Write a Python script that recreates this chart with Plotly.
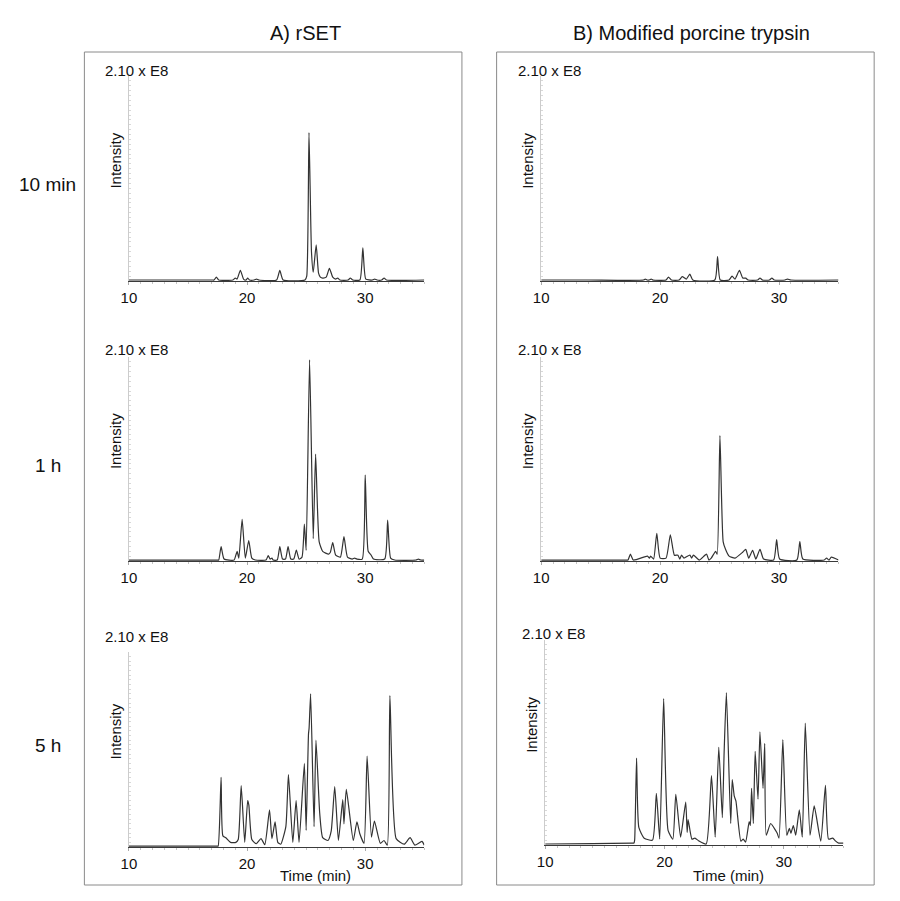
import plotly.graph_objects as go

# -----------------
# Data: retention time (min) and intensity (x 1E8)
# -----------------
rset_10min_t = [10, 14, 17.1, 17.2, 17.4, 17.6, 18.8, 19.0, 19.15, 19.43, 19.7, 19.9, 20.05, 20.2, 20.6, 20.8,
                21.0, 22.5, 22.77, 23.05, 24.9, 25.05, 25.24, 25.45, 25.6, 25.85, 26.05, 26.2, 26.4, 26.7,
                26.97, 27.25, 27.5, 27.67, 27.85, 28.55, 28.74, 28.95, 29.55, 29.8, 30.05, 30.6, 30.8, 31.0,
                31.4, 31.6, 31.8, 35]
rset_10min_i = [0.01, 0.01, 0.01, 0.01, 0.04, 0.01, 0.01, 0.03, 0.02, 0.11, 0.02, 0.01, 0.03, 0.01, 0.01, 0.02,
                0.01, 0.01, 0.11, 0.01, 0.01, 0.05, 1.52, 0.30, 0.09, 0.37, 0.08, 0.04, 0.03, 0.04,
                0.13, 0.04, 0.02, 0.03, 0.01, 0.01, 0.03, 0.01, 0.01, 0.34, 0.02, 0.01, 0.02, 0.01,
                0.01, 0.03, 0.01, 0.01]

rset_1h_t = [10, 14, 17.5, 17.6, 17.8, 18.05, 18.9, 19.05, 19.16, 19.3, 19.58, 19.85, 20.14, 20.4, 20.7,
             21.6, 21.79, 21.95, 22.1, 22.2, 22.55, 22.77, 23.0, 23.25, 23.47, 23.7, 23.95, 24.17, 24.4,
             24.65, 24.85, 25.0, 25.29, 25.6, 25.8, 26.1, 26.4, 26.9, 27.05, 27.25, 27.5, 27.9, 28.2,
             28.5, 28.9, 29.1, 29.3, 29.75, 30.0, 30.25, 30.5, 30.7, 31.65, 31.9, 32.15, 32.5, 34.3,
             34.5, 34.7, 35]
rset_1h_i = [0.01, 0.01, 0.01, 0.01, 0.147, 0.02, 0.01, 0.06, 0.10, 0.03, 0.43, 0.03, 0.21, 0.03, 0.01,
             0.01, 0.055, 0.02, 0.03, 0.01, 0.01, 0.147, 0.02, 0.02, 0.147, 0.02, 0.02, 0.113, 0.02,
             0.04, 0.38, 0.11, 2.07, 0.23, 1.10, 0.20, 0.10, 0.07, 0.09, 0.19, 0.06, 0.04, 0.25,
             0.04, 0.02, 0.03, 0.02, 0.02, 0.885, 0.10, 0.06, 0.02, 0.02, 0.42, 0.03, 0.01, 0.01,
             0.02, 0.01, 0.01]

rset_5h_t = [10, 14, 17.45, 17.55, 17.8, 17.95, 18.2, 18.6, 19.05, 19.25, 19.5, 19.8, 20.05, 20.15, 20.4,
             20.77, 21.18, 21.5, 21.9, 22.1, 22.37, 22.6, 22.85, 23.28, 23.5, 23.87, 24.15, 24.4, 24.85,
             25.0, 25.2, 25.25, 25.38, 25.67, 25.83, 26.15, 26.4, 26.85, 27.12, 27.42, 27.73, 28.1,
             28.2, 28.4, 28.99, 29.3, 29.55, 29.9, 30.16, 30.53, 30.78, 31.28, 31.59, 31.87, 32.09,
             32.62, 33.3, 33.8, 34.2, 34.8, 35]
rset_5h_i = [0.01, 0.01, 0.01, 0.01, 0.75, 0.12, 0.10, 0.05, 0.05, 0.08, 0.66, 0.05, 0.50, 0.45, 0.08,
             0.035, 0.09, 0.025, 0.40, 0.09, 0.27, 0.05, 0.03, 0.22, 0.78, 0.05, 0.50, 0.05, 0.90,
             0.18, 1.22, 1.28, 1.65, 0.22, 1.15, 0.36, 0.10, 0.07, 0.17, 0.65, 0.07, 0.51,
             0.25, 0.62, 0.07, 0.27, 0.14, 0.04, 0.98, 0.107, 0.28, 0.04, 0.07, 0.02, 1.63,
             0.09, 0.03, 0.10, 0.02, 0.06, 0.02]

pt_10min_t = [10, 14, 18.6, 18.75, 18.9, 19.1, 19.25, 19.4, 20.5, 20.7, 20.95, 21.6, 21.86, 22.2, 22.5,
              22.75, 24.6, 24.83, 25.05, 25.8, 26.05, 26.3, 26.67, 26.95, 27.2, 27.4, 28.2, 28.4,
              28.6, 29.2, 29.4, 29.6, 30.5, 30.7, 31.0, 35]
pt_10min_i = [0.01, 0.01, 0.01, 0.02, 0.01, 0.01, 0.02, 0.01, 0.01, 0.04, 0.01, 0.01, 0.045, 0.02, 0.07,
              0.01, 0.01, 0.25, 0.01, 0.01, 0.05, 0.02, 0.11, 0.03, 0.03, 0.01, 0.01, 0.03,
              0.01, 0.01, 0.03, 0.01, 0.01, 0.02, 0.01, 0.01]

pt_1h_t = [10, 14, 17.2, 17.3, 17.5, 17.75, 18.94, 19.1, 19.2, 19.45, 19.72, 20.0, 20.5, 20.86, 21.2, 21.5,
           21.65, 21.8, 22.0, 22.5, 22.65, 22.8, 23.3, 23.9, 24.1, 24.3, 24.67, 24.8, 25.03, 25.3, 25.5,
           25.8, 26.3, 26.94, 27.2, 27.45, 27.78, 28.05, 28.4, 28.7, 29.55, 29.8, 30.05, 31.5, 31.75,
           32.0, 33.8, 34.0, 34.2, 34.4, 35]
pt_1h_i = [0.01, 0.01, 0.01, 0.01, 0.07, 0.01, 0.05, 0.03, 0.05, 0.02, 0.285, 0.03, 0.03, 0.27, 0.06, 0.06,
           0.02, 0.06, 0.03, 0.06, 0.03, 0.06, 0.01, 0.07, 0.01, 0.03, 0.10, 0.07, 1.29, 0.20, 0.12,
           0.05, 0.03, 0.09, 0.12, 0.03, 0.11, 0.02, 0.12, 0.02, 0.01, 0.22, 0.02, 0.01, 0.20,
           0.02, 0.01, 0.03, 0.01, 0.04, 0.01]

pt_5h_t = [10, 14, 17.3, 17.44, 17.5, 17.66, 17.85, 18.3, 19.0, 19.32, 19.6, 19.93, 20.3, 20.7, 20.95,
           21.35, 21.78, 21.9, 21.98, 22.3, 22.55, 22.9, 23.5, 23.94, 24.25, 24.55, 24.85, 25.0, 25.19,
           25.55, 25.68, 25.85, 25.99, 26.4, 26.6, 26.8, 27.1, 27.2, 27.3, 27.45, 27.6, 27.84, 28.0,
           28.26, 28.4, 28.53, 28.9, 29.31, 29.45, 29.6, 29.92, 30.25, 30.47, 30.6, 30.8, 31.0, 31.3,
           31.55, 31.8, 32.2, 32.55, 33.1, 33.49, 33.75, 34.1, 34.35, 34.6, 35]
pt_5h_i = [0.01, 0.015, 0.02, 0.02, 0.05, 0.89, 0.18, 0.07, 0.05, 0.53, 0.06, 1.50, 0.15, 0.06, 0.52,
           0.08, 0.44, 0.13, 0.26, 0.06, 0.07, 0.04, 0.01, 0.71, 0.08, 1.00, 0.28, 0.95, 1.56,
           0.22, 0.67, 0.50, 0.45, 0.04, 0.06, 0.03, 0.24, 0.20, 0.58, 0.22, 0.96, 0.47,
           1.16, 0.58, 1.04, 0.10, 0.22, 0.15, 0.12, 0.07, 1.08, 0.10, 0.17, 0.12, 0.20, 0.10,
           0.36, 0.08, 1.25, 0.10, 0.40, 0.04, 0.61, 0.06, 0.07, 0.04, 0.02, 0.02]

series = [rset_10min_t, rset_10min_i, pt_10min_t, pt_10min_i,
          rset_1h_t, rset_1h_i, pt_1h_t, pt_1h_i,
          rset_5h_t, rset_5h_i, pt_5h_t, pt_5h_i]

panel_titles = ["A) rSET", "B) Modified porcine trypsin"]
row_labels = ["10 min", "1 h", "5 h"]
scale_label = "2.10 x E8"
x_ticks = [10, 20, 30]
x_range = [10, 35]
y_max = 2.10

# -----------------
# Layout: positions below are page pixels; the page body keeps its default 8px margin,
# so the figure is made 16px smaller and every position is shifted by that margin
# -----------------
OFF = 8
W, H = 900 - 2 * OFF, 901 - 2 * OFF
FONT = "Liberation Sans, Arial, sans-serif"

def px_x(p):
    return (p - OFF) / W

def px_y(p):
    return 1 - (p - OFF) / H

# left, right, top, bottom of each plot area, then y of the "2.10 x E8" label (page pixels)
boxes = [
    (122, 420, 76, 281, 70), (538, 838, 76, 281, 70),
    (122, 420, 357, 561, 349), (538, 838, 357, 561, 349),
    (122, 420, 652, 847, 636), (542, 843, 640, 845, 633),
]

fig = go.Figure()
layout = dict(
    width=W, height=H,
    margin=dict(l=0, r=0, t=0, b=0),
    paper_bgcolor="white", plot_bgcolor="white",
    showlegend=False,
    font=dict(family=FONT, color="#111"),
)

annotations = []
for k, (l, r, t, b, ly) in enumerate(boxes):
    n = k + 1
    suf = "" if n == 1 else str(n)
    layout["xaxis" + suf] = dict(
        domain=[px_x(l), px_x(r)], anchor="y" + suf,
        range=x_range, tickvals=x_ticks, showgrid=False, zeroline=False,
        showline=True, linecolor="#3a3a3a", linewidth=1,
        ticks="outside", ticklen=3, tickcolor="#aaa",
        minor=dict(ticks="outside", ticklen=2, dtick=1, tickcolor="#c4c4c4"),
        tickfont=dict(size=15, color="#111", family=FONT),
    )
    layout["yaxis" + suf] = dict(
        domain=[px_y(b), px_y(t)], anchor="x" + suf,
        range=[0, y_max], showgrid=False, zeroline=False,
        showline=True, linecolor="#cccccc", linewidth=1,
        showticklabels=False, ticks="inside", ticklen=2, dtick=0.05, tickcolor="#d8d8d8",
    )
    fig.add_trace(go.Scatter(
        x=series[2 * k], y=series[2 * k + 1], mode="lines",
        line=dict(color="#333333", width=1.2, shape="spline", smoothing=0.5),
        xaxis="x" + suf, yaxis="y" + suf,
        hoverinfo="skip",
    ))
    # scale label and axis title
    annotations.append(dict(x=px_x(l + 8), y=px_y(ly), xref="paper", yref="paper",
                            text=scale_label, showarrow=False, xanchor="center", yanchor="middle",
                            font=dict(size=15, family=FONT, color="#111")))
    annotations.append(dict(x=px_x(l - 14), y=px_y((t + b) / 2 - 18), xref="paper", yref="paper",
                            text="Intensity", textangle=-90, showarrow=False,
                            xanchor="center", yanchor="middle",
                            font=dict(size=15, family=FONT, color="#111")))

# panel titles
for cx, txt in zip([300, 690], panel_titles):
    annotations.append(dict(x=px_x(cx), y=px_y(33), xref="paper", yref="paper", text=txt,
                            showarrow=False, xanchor="center", yanchor="middle",
                            font=dict(size=20, family=FONT, color="#111")))

# row labels
for cy, txt in zip([185, 465, 745], row_labels):
    annotations.append(dict(x=px_x(40), y=px_y(cy), xref="paper", yref="paper", text=txt,
                            showarrow=False, xanchor="center", yanchor="middle",
                            font=dict(size=19, family=FONT, color="#111")))

# x axis titles under the bottom row
for cx in [310, 727]:
    annotations.append(dict(x=px_x(cx), y=px_y(875), xref="paper", yref="paper",
                            text="Time (min)", showarrow=False, xanchor="center", yanchor="middle",
                            font=dict(size=15, family=FONT, color="#111")))

layout["annotations"] = annotations
layout["shapes"] = [
    dict(type="rect", xref="paper", yref="paper", x0=px_x(77), x1=px_x(458), y0=px_y(885), y1=px_y(52),
         line=dict(color="#8a8a8a", width=1)),
    dict(type="rect", xref="paper", yref="paper", x0=px_x(493), x1=px_x(874), y0=px_y(885), y1=px_y(52),
         line=dict(color="#8a8a8a", width=1)),
]
fig.update_layout(**layout)

fig.write_html("out.html")
